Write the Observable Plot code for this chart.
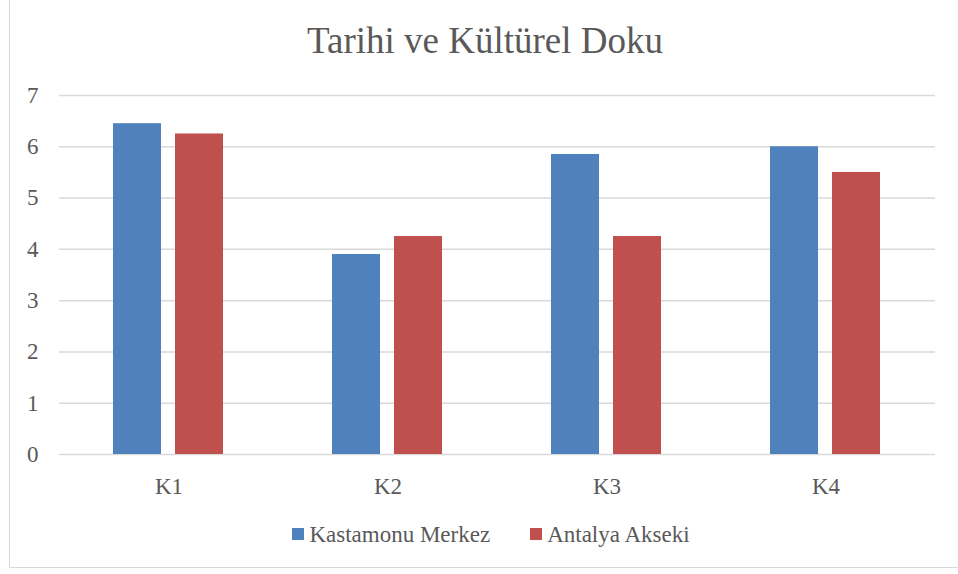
<!DOCTYPE html>
<html>
<head>
<meta charset="utf-8">
<script src="https://cdn.jsdelivr.net/npm/d3@7"></script>
<script src="https://cdn.jsdelivr.net/npm/@observablehq/plot@0.6"></script>
<style>
  html, body { margin: 0; padding: 0; background: #fff; }
  body { width: 958px; height: 574px; position: relative; overflow: hidden; color: #595959; font-family: "Liberation Serif", Tinos, "DejaVu Serif", serif; }
  #frame { position: absolute; left: 9px; top: -3px; width: 1000px; height: 571px; border: 1.5px solid #d9d9d9; box-sizing: border-box; }
  #title { position: absolute; top: 22px; left: 485px; transform: translateX(-50%); font-size: 37px; line-height: 37px; white-space: nowrap; }
  #chart { position: absolute; top: 80px; left: 0; }
  #legend { position: absolute; top: 523px; left: 0; width: 982px; text-align: center; font-size: 23px; line-height: 23px; white-space: nowrap; }
  .item { display: inline-block; }
  .item + .item { margin-left: 40px; }
  .sw { display: inline-block; width: 12px; height: 12px; margin-right: 5px; margin-bottom: 2px; vertical-align: baseline; }
  svg text { font-family: "Liberation Serif", Tinos, "DejaVu Serif", serif; }
</style>
</head>
<body>
<div id="frame"></div>
<div id="title">Tarihi ve Kültürel Doku</div>
<div id="chart"></div>
<div id="legend"></div>
<script>
const categories = ["K1", "K2", "K3", "K4"];
const series = ["Kastamonu Merkez", "Antalya Akseki"];
const kastamonu = [6.45, 3.9, 5.85, 6.0];
const antalya = [6.25, 4.25, 4.25, 5.5];
const colors = ["#4f81bd", "#c0504d"];
const yTicks = [0, 1, 2, 3, 4, 5, 6, 7];

const values = [kastamonu, antalya];
const data = [];
categories.forEach((c, i) => {
  series.forEach((s, j) => data.push({category: c, series: s, value: values[j][i]}));
});

const plot = Plot.plot({
  width: 958,
  height: 420,
  marginLeft: 59,
  marginRight: 23,
  marginTop: 15,
  marginBottom: 46,
  style: {fontFamily: "'Liberation Serif', Tinos, 'DejaVu Serif', serif", color: "#595959", background: "transparent"},
  fx: {domain: categories, padding: 0, label: null},
  x: {domain: series, paddingInner: 0.2222, paddingOuter: 0.857, axis: null},
  y: {domain: [0, 7], label: null},
  color: {domain: series, range: colors},
  marks: [
    Plot.ruleY(yTicks, {stroke: "#d9d9d9", strokeWidth: 1.5}),
    Plot.barY(data, {fx: "category", x: "series", y: "value", fill: "series"}),
    Plot.axisY(yTicks, {tickSize: 0, tickPadding: 21, fontSize: 23, label: null, fill: "#595959", tickFormat: d => String(d)}),
    Plot.axisFx({anchor: "bottom", tickSize: 0, tickPadding: 23, fontSize: 23, label: null, fill: "#595959"})
  ]
});
document.getElementById("chart").appendChild(plot);

const legend = document.getElementById("legend");
series.forEach((s, j) => {
  const item = document.createElement("span");
  item.className = "item";
  const sw = document.createElement("span");
  sw.className = "sw";
  sw.style.background = colors[j];
  item.appendChild(sw);
  item.appendChild(document.createTextNode(s));
  legend.appendChild(item);
});
</script>
</body>
</html>
